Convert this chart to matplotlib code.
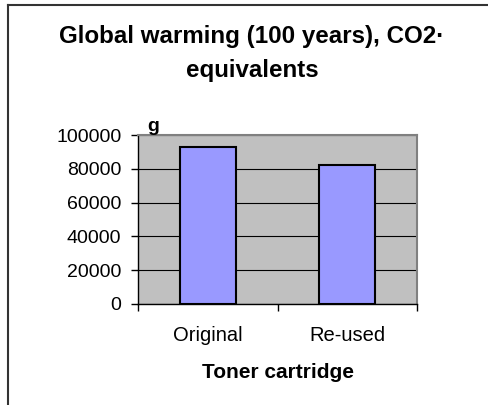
import numpy as np
import matplotlib
matplotlib.use("Agg")
import matplotlib.pyplot as plt
from matplotlib.lines import Line2D

categories = ["Original", "Re-used"]
values = [93000, 82000]
yticks = [0, 20000, 40000, 60000, 80000, 100000]

plt.rcParams['font.family'] = ['Liberation Sans', 'DejaVu Sans']

fig = plt.figure(figsize=(4.89, 4.05), dpi=100)
ax = fig.add_axes([138/489, 1-304/405, (417-138)/489, (304-135)/405])
ax.set_facecolor('#C0C0C0')

x = np.arange(len(categories))
ax.bar(x, values, width=0.4, color='#9999FF', edgecolor='black', linewidth=1.5, zorder=3)

ax.set_xlim(-0.5, len(categories) - 0.5)
ax.set_ylim(0, 100000)
ax.set_yticks(yticks)
ax.set_yticklabels([str(v) for v in yticks], fontsize=14)
ax.yaxis.grid(True, color='black', linewidth=0.8, zorder=1)
ax.set_axisbelow(True)

# category labels between boundary ticks
ax.set_xticks(np.arange(-0.5, len(categories), 1.0))
ax.set_xticklabels([])
ax.set_xticks(x, minor=True)
ax.set_xticklabels(categories, minor=True, fontsize=14.5)
ax.tick_params(axis='x', which='minor', length=0, pad=16)
ax.tick_params(axis='x', which='major', length=5, width=1, color='black')
ax.tick_params(axis='y', length=5, width=1, pad=7)

for s in ['top', 'right']:
    ax.spines[s].set_color('#808080')
    ax.spines[s].set_linewidth(1.5)
for s in ['left', 'bottom']:
    ax.spines[s].set_color('black')
    ax.spines[s].set_linewidth(1)

ax.set_xlabel("Toner cartridge", fontsize=15, fontweight='bold', labelpad=13)
ax.text(0.055, 1.0, "g", transform=ax.transAxes, fontsize=14, fontweight='bold',
        ha='center', va='bottom')

fig.text(252/489, 1-43/405, "Global warming (100 years), CO2·", fontsize=17.4,
         fontweight='bold', ha='center', va='baseline')
fig.text(252/489, 1-77/405, "equivalents", fontsize=17.4,
         fontweight='bold', ha='center', va='baseline')

# outer frame (cropped)
fig.add_artist(Line2D([8/489, 1], [1-5/405, 1-5/405], color='#333333', linewidth=1.5))
fig.add_artist(Line2D([8/489, 8/489], [0, 1-5/405], color='#333333', linewidth=1.5))

fig.savefig("out.png", dpi=100)
